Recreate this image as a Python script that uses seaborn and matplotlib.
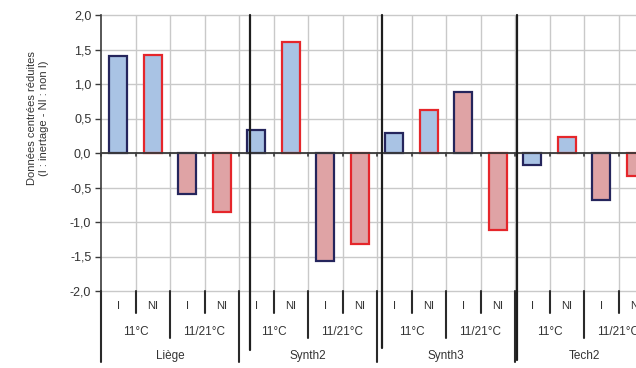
import matplotlib
matplotlib.use("Agg")
import matplotlib.pyplot as plt
import matplotlib.transforms as mtransforms
import seaborn as sns
import pandas as pd
import numpy as np

# ---- data ----
sites = ["Liège", "Synth2", "Synth3", "Tech2"]
temps = ["11°C", "11/21°C"]
modes = ["I", "NI"]
values_liege = [1.40, 1.42, -0.59, -0.85]
values_synth2 = [0.34, 1.61, -1.56, -1.32]
values_synth3 = [0.29, 0.62, 0.89, -1.12]
values_tech2 = [-0.17, 0.23, -0.68, -0.34]
yticks = [-2.0, -1.5, -1.0, -0.5, 0.0, 0.5, 1.0, 1.5, 2.0]

all_values = values_liege + values_synth2 + values_synth3 + values_tech2
rows = []
for si, s in enumerate(sites):
    for ti, t in enumerate(temps):
        for mi, m in enumerate(modes):
            k = si * 4 + ti * 2 + mi
            rows.append(dict(pos=k, site=s, temp=t, mode=m, value=all_values[k]))
df = pd.DataFrame(rows)

fill_colors = {"11°C": "#a9c3e4", "11/21°C": "#dfa3a5"}
edge_colors = {"I": "#25255c", "NI": "#e5262b"}
grid_c = "#c9c9c9"
text_c = "#333333"

sns.set_theme(style="white")
plt.rcParams["font.family"] = ["Liberation Sans", "DejaVu Sans"]

W, H = 636, 368
fig = plt.figure(figsize=(W / 100, H / 100), dpi=100)
left_px, right_px, top_px, bot_px = 101, 653, 15, 291
ax = fig.add_axes([left_px / W, (H - bot_px) / H, (right_px - left_px) / W, (bot_px - top_px) / H])

sns.barplot(data=df, x="pos", y="value", order=list(range(16)), width=0.52,
            ax=ax, color="#a9c3e4", errorbar=None, zorder=3)
for p, (_, r) in zip(ax.patches, df.iterrows()):
    p.set_facecolor(fill_colors[r["temp"]])
    p.set_edgecolor(edge_colors[r["mode"]])
    p.set_linewidth(1.6)
    p.set_zorder(3)

ax.set_xlim(-0.5, 15.5)
ax.set_ylim(-2.0, 2.0)
ax.set_yticks(yticks)
ax.set_yticklabels([f"{v:.1f}".replace(".", ",") for v in yticks], fontsize=9, color=text_c)
ax.set_xticks([])
ax.set_xlabel("")
ax.set_ylabel("")

# gridlines
for yv in yticks:
    ax.axhline(yv, color=grid_c, lw=1.0, zorder=1, clip_on=False)
for xv in np.arange(0.5, 15.5, 1.0):
    ax.axvline(xv, color=grid_c, lw=1.0, zorder=1)

for sp in ["top", "right", "bottom"]:
    ax.spines[sp].set_visible(False)
ax.spines["left"].set_color("#3a3a3a")
ax.spines["left"].set_linewidth(1.2)
ax.tick_params(axis="y", which="major", length=4, width=1.0, color="#3a3a3a", pad=3, left=True)

# zero axis with tick marks
ax.axhline(0, color="#3a3a3a", lw=1.3, zorder=4)
for xv in np.arange(-0.5, 16.0, 1.0):
    ax.plot([xv, xv], [0, -0.05], color="#3a3a3a", lw=1.2, zorder=4, clip_on=False)

trans = mtransforms.blended_transform_factory(ax.transData, ax.transAxes)

# category label separators (Excel multilevel axis)
def vline(x, y0, y1, lw=1.5, color="#2a2a2a"):
    ax.plot([x, x], [y0, y1], transform=trans, color=color, lw=lw, clip_on=False, zorder=5)

for k in range(16):
    b = k - 0.5
    if k % 4 == 0:
        vline(b, 0.0, -0.257)
    elif k % 2 == 0:
        vline(b, 0.0, -0.17)
    else:
        vline(b, 0.0, -0.08)
vline(15.5, 0.0, -0.257)

# manual dark separators
for xv, yb in [(3.82, -0.214), (7.64, -0.207), (11.56, -0.25)]:
    vline(xv, 1.0, yb, lw=1.6, color="#1e1e1e")

# labels
for k in range(16):
    ax.text(k, -0.054, df.loc[k, "mode"], transform=trans, ha="center", va="center",
            fontsize=8, color=text_c, clip_on=False)
for si in range(4):
    for ti, t in enumerate(temps):
        ax.text(si * 4 + ti * 2 + 0.5, -0.149, t, transform=trans, ha="center", va="center",
                fontsize=8.5, color=text_c, clip_on=False)
    ax.text(si * 4 + 1.5, -0.236, sites[si], transform=trans, ha="center", va="center",
            fontsize=8.5, color=text_c, clip_on=False)

fig.text(38 / W, 1 - 118 / H, "Données centrées réduites\n(I : inertage - NI : non I)",
         rotation=90, ha="center", va="center", fontsize=8, color=text_c, linespacing=1.2)

fig.savefig("out.png", dpi=100)
